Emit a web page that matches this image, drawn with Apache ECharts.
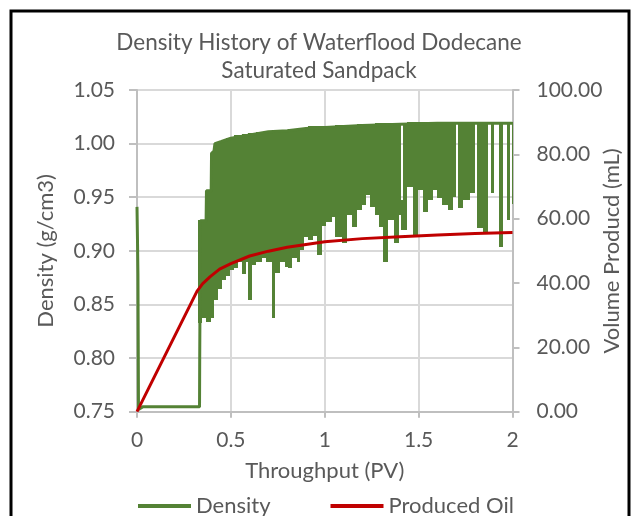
<!DOCTYPE html>
<html>
<head>
<meta charset="utf-8">
<script src="https://cdn.jsdelivr.net/npm/echarts@6/dist/echarts.min.js"></script>
<style>
  html, body { margin: 0; padding: 0; background: #fff; }
  #chart { width: 638px; height: 516px; }
</style>
</head>
<body>
<div id="chart"></div>
<script>
// density trace: spike at start, flat base, then upper edge of the oscillation
const densityThroughput = [0, 0.003, 0.005, 0.008, 0.03, 0.333, 0.334, 0.338, 0.368, 0.370, 0.395, 0.397, 0.41, 0.415, 0.45, 0.5, 0.6, 0.7, 0.8, 0.9, 1.0, 1.2, 1.4, 1.6, 2.0];
const densityValues = [0.941, 0.905, 0.878, 0.752, 0.7545, 0.7545, 0.80, 0.928, 0.928, 0.956, 0.956, 0.991, 0.993, 1.000, 1.002, 1.005, 1.008, 1.011, 1.012, 1.014, 1.015, 1.017, 1.018, 1.019, 1.019];

// oscillation columns (throughput from/to, density high/low)
const swingFrom = [0.326, 0.348, 0.369, 0.396, 0.412, 0.433, 0.454, 0.476, 0.497, 0.518, 0.539, 0.561, 0.582, 0.593, 0.614, 0.635, 0.667, 0.689, 0.720, 0.736,
  0.763, 0.790, 0.806, 0.827, 0.854, 0.870, 0.891, 0.912, 0.939, 0.960, 0.987, 1.008, 1.040, 1.056, 1.093, 1.120, 1.146, 1.173, 1.200, 1.221,
  1.242, 1.269, 1.290, 1.312, 1.338, 1.370, 1.397, 1.408, 1.417, 1.439, 1.471, 1.498, 1.525, 1.551, 1.578, 1.599, 1.626, 1.658, 1.684, 1.711,
  1.738, 1.775, 1.812, 1.844, 1.887, 1.929, 1.972, 1.996];
const swingTo = [0.348, 0.369, 0.396, 0.412, 0.433, 0.454, 0.476, 0.497, 0.518, 0.539, 0.561, 0.582, 0.593, 0.614, 0.635, 0.667, 0.689, 0.720, 0.736, 0.763,
  0.790, 0.806, 0.827, 0.854, 0.870, 0.891, 0.912, 0.939, 0.960, 0.987, 1.008, 1.040, 1.056, 1.093, 1.120, 1.146, 1.173, 1.200, 1.221, 1.242,
  1.269, 1.290, 1.312, 1.338, 1.370, 1.397, 1.408, 1.417, 1.439, 1.471, 1.498, 1.525, 1.551, 1.578, 1.599, 1.626, 1.658, 1.684, 1.700, 1.738,
  1.775, 1.801, 1.844, 1.871, 1.900, 1.951, 1.988, 2.000];
const swingHigh = [0.929, 0.929, 0.957, 0.992, 1.001, 1.002, 1.003, 1.005, 1.006, 1.008, 1.008, 1.009, 1.009, 1.010, 1.010, 1.011, 1.011, 1.012, 1.012, 1.013,
  1.013, 1.013, 1.014, 1.014, 1.015, 1.015, 1.015, 1.016, 1.016, 1.016, 1.016, 1.016, 1.016, 1.017, 1.017, 1.017, 1.017, 1.018, 1.018, 1.018,
  1.018, 1.019, 1.019, 1.019, 1.019, 1.019, 1.019, 0.947, 1.019, 1.020, 1.020, 1.020, 1.020, 1.020, 1.020, 1.020, 1.020, 1.020, 1.020, 1.020,
  1.020, 1.020, 1.020, 1.020, 1.020, 1.020, 1.020, 1.020];
const swingLow = [0.833, 0.837, 0.834, 0.837, 0.854, 0.864, 0.873, 0.877, 0.882, 0.884, 0.890, 0.878, 0.890, 0.854, 0.887, 0.890, 0.893, 0.890, 0.837, 0.879,
  0.890, 0.885, 0.884, 0.893, 0.890, 0.901, 0.913, 0.910, 0.914, 0.896, 0.923, 0.927, 0.932, 0.913, 0.907, 0.933, 0.922, 0.938, 0.943, 0.952,
  0.941, 0.933, 0.922, 0.890, 0.929, 0.907, 0.933, 0.919, 0.919, 0.960, 0.913, 0.957, 0.936, 0.947, 0.957, 0.949, 0.943, 0.938, 0.950, 0.940,
  0.947, 0.954, 0.921, 0.917, 0.954, 0.904, 0.929, 0.944];

// produced oil (mL) vs throughput
const oilThroughput = [0, 0.32, 0.35, 0.39, 0.44, 0.5, 0.6, 0.7, 0.8, 0.9, 1.0, 1.2, 1.4, 1.6, 1.8, 2.0];
const oilVolume = [0, 37.5, 39.8, 42.0, 44.3, 46.0, 48.4, 49.9, 51.1, 52.0, 52.8, 53.8, 54.4, 54.9, 55.4, 55.7];

const green = "#548235";
const red = "#C00000";
const fontColor = "#595959";
const font = "Lato, 'Open Sans', sans-serif";

const myChart = echarts.init(document.getElementById("chart"));

myChart.setOption({
  animation: false,
  title: {
    text: "Density History of Waterflood Dodecane\nSaturated Sandpack",
    left: "center",
    top: 24,
    textStyle: {
      color: fontColor,
      fontFamily: font,
      fontWeight: "normal",
      fontSize: 22.5,
      lineHeight: 28,
    },
  },
  legend: {
    data: ["Density", "Produced Oil"],
    left: 133,
    top: 490,
    icon: "rect",
    itemWidth: 53,
    itemHeight: 4,
    itemGap: 60,
    textStyle: { color: fontColor, fontFamily: font, fontSize: 22 },
  },
  grid: {
    left: 137,
    top: 90,
    width: 375.5,
    height: 321.7,
    containLabel: false,
    outerBoundsMode: "none",
  },
  xAxis: {
    type: "value",
    min: 0,
    max: 2,
    interval: 0.5,
    name: "Throughput (PV)",
    nameLocation: "middle",
    nameGap: 48,
    nameMoveOverlap: false,
    nameTextStyle: { color: fontColor, fontFamily: font, fontSize: 22 },
    axisLine: { show: true, lineStyle: { color: "#bfbfbf", width: 2 } },
    axisTick: { show: true, length: 6, lineStyle: { color: "#bfbfbf", width: 2 } },
    axisLabel: { color: fontColor, fontFamily: font, fontSize: 21, margin: 18 },
    splitLine: { show: true, lineStyle: { color: "#d9d9d9", width: 2 } },
  },
  yAxis: [
    {
      type: "value",
      min: 0.75,
      max: 1.05,
      interval: 0.05,
      name: "Density (g/cm3)",
      nameLocation: "middle",
      nameRotate: 90,
      nameGap: 80,
      nameMoveOverlap: false,
      nameTextStyle: { color: fontColor, fontFamily: font, fontSize: 22 },
      axisLine: { show: true, lineStyle: { color: "#bfbfbf", width: 2 } },
      axisTick: { show: true, length: 8, lineStyle: { color: "#bfbfbf", width: 2 } },
      axisLabel: {
        color: fontColor,
        fontFamily: font,
        fontSize: 21,
        margin: 22,
        formatter: (v) => v.toFixed(2),
      },
      splitLine: { show: true, lineStyle: { color: "#d9d9d9", width: 2 } },
    },
    {
      type: "value",
      min: 0,
      max: 100,
      interval: 20,
      position: "right",
      name: "Volume Producd (mL)",
      nameLocation: "middle",
      nameRotate: 90,
      nameGap: 88,
      nameMoveOverlap: false,
      nameTextStyle: { color: fontColor, fontFamily: font, fontSize: 22 },
      axisLine: { show: true, lineStyle: { color: "#bfbfbf", width: 2 } },
      axisTick: { show: true, length: 7, lineStyle: { color: "#bfbfbf", width: 2 } },
      axisLabel: {
        color: fontColor,
        fontFamily: font,
        fontSize: 21,
        margin: 24,
        formatter: (v) => v.toFixed(2),
      },
      splitLine: { show: false },
    },
  ],
  graphic: [
    {
      type: "rect",
      shape: { x: 11, y: 11, width: 618, height: 520 },
      style: { fill: "none", stroke: "#000", lineWidth: 3 },
      silent: true,
    },
  ],
  series: [
    {
      name: "Density",
      type: "line",
      yAxisIndex: 0,
      z: 3,
      symbol: "none",
      color: green,
      lineStyle: { color: green, width: 3 },
      data: densityThroughput.map((t, i) => [t, densityValues[i]]),
    },
    {
      name: "Density",
      type: "custom",
      yAxisIndex: 0,
      z: 2,
      color: green,
      encode: { x: [0, 1], y: [2, 3] },
      data: swingFrom.map((t, i) => [t, swingTo[i], swingHigh[i], swingLow[i]]),
      renderItem: (params, api) => {
        const a = api.coord([api.value(0), api.value(2)]);
        const b = api.coord([api.value(1), api.value(3)]);
        const x0 = Math.round(a[0]);
        const x1 = Math.round(b[0]);
        const y0 = Math.round(a[1]);
        const y1 = Math.round(b[1]);
        return {
          type: "rect",
          shape: { x: x0, y: y0, width: x1 - x0, height: y1 - y0 },
          style: { fill: green },
        };
      },
    },
    {
      name: "Produced Oil",
      type: "line",
      yAxisIndex: 1,
      z: 4,
      symbol: "none",
      color: red,
      lineStyle: { color: red, width: 3 },
      data: oilThroughput.map((t, i) => [t, oilVolume[i]]),
    },
  ],
});
</script>
</body>
</html>
